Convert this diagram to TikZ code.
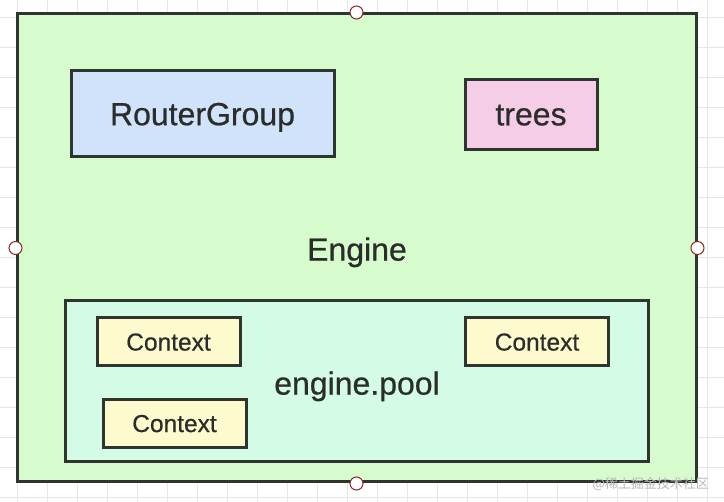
\documentclass[tikz,border=0pt]{standalone}
\usepackage{fontspec}
\setmainfont{Liberation Sans}
\newfontfamily\medfont[FakeBold=0.6]{Liberation Sans}
\newfontfamily\cjk{Noto Sans CJK SC}
\definecolor{edge}{HTML}{2E342E}
\definecolor{gridc}{HTML}{E6E6E6}
\definecolor{enginefill}{HTML}{D6FBCD}
\definecolor{rgfill}{HTML}{D0E3FA}
\definecolor{treefill}{HTML}{F5CDE6}
\definecolor{poolfill}{HTML}{D4FBE6}
\definecolor{ctxfill}{HTML}{FDFBCD}
\definecolor{txt}{HTML}{2A2D2A}
\definecolor{handle}{HTML}{8B2A2A}
\tikzset{
  box/.style={draw=edge, line width=3pt, inner sep=0pt},
  big/.style={font=\medfont\fontsize{32}{36}\selectfont, text=txt, text depth=0pt},
  ctx/.style={box, fill=ctxfill, minimum width=143pt, minimum height=48pt, font=\medfont\fontsize{24.5}{28}\selectfont, text=txt, text depth=0pt},
  handlept/.style={circle, draw=handle, fill=white, line width=1pt, minimum size=13pt, inner sep=0pt}
}
\begin{document}
\begin{tikzpicture}[x=1pt,y=-1pt]
\useasboundingbox (0,0) rectangle (724,502);
\fill[white] (0,0) rectangle (724,502);
% grid
\foreach \gx in {17,47,...,724} \draw[gridc, line width=1pt] (\gx,0) -- (\gx,502);
\foreach \gy in {18,48,...,502} \draw[gridc, line width=1pt] (0,\gy) -- (724,\gy);
% engine
\node[box, fill=enginefill, minimum width=679pt, minimum height=468pt] (engine) at (356.5,248) {};
\node[big] (enginelbl) at (357,249) {Engine};
\node[box, fill=rgfill, minimum width=263pt, minimum height=86pt, big] (rg) at (202.5,114) {RouterGroup};
\node[box, fill=treefill, minimum width=132pt, minimum height=70pt, big] (trees) at (531,115) {trees};
% pool
\node[box, fill=poolfill, minimum width=583pt, minimum height=161pt] (pool) at (356.5,381.5) {};
\node[big] (poollbl) at (357,383) {engine.pool};
\node[ctx] (c1) at (168.5,342) {Context};
\node[ctx] (c2) at (537,342) {Context};
\node[ctx] (c3) at (174.5,423.5) {Context};
% handles
\node[handlept] (h1) at (engine.north) {};
\node[handlept] (h2) at (engine.south) {};
\node[handlept] (h3) at (engine.west) {};
\node[handlept] (h4) at (engine.east) {};
% watermark
\node[anchor=east, text=black!28, font=\cjk\fontsize{13}{15}\selectfont, inner sep=0pt] (wm) at (709,484) {@稀土掘金技术社区};
\end{tikzpicture}
\end{document}
